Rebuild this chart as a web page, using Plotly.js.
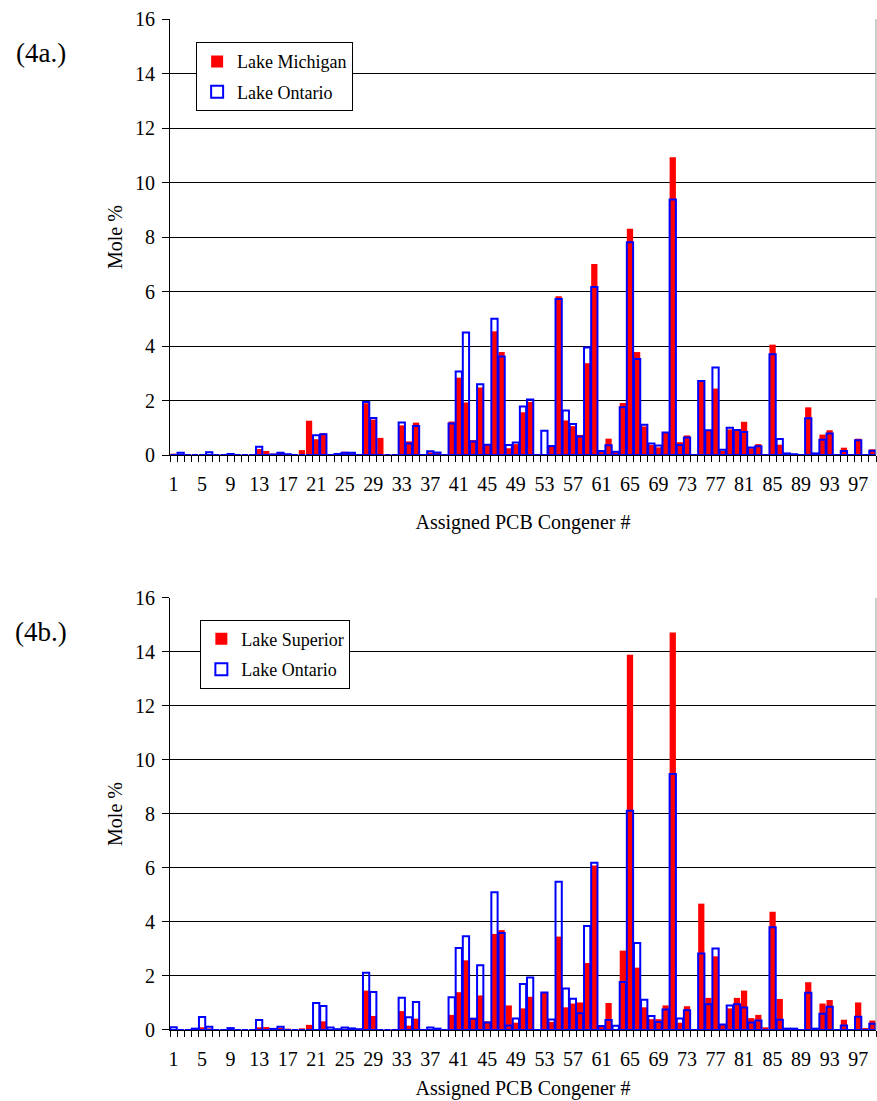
<!DOCTYPE html>
<html>
<head>
<meta charset="utf-8">
<script src="https://cdn.plot.ly/plotly-3.0.1.min.js"></script>
<style>
body{margin:0;padding:0;background:#fff;}
#chart{width:877px;height:1101px;}
#chart text{font-family:"Liberation Serif","Times New Roman",serif !important;}
</style>
</head>
<body>
<div id="chart"></div>
<script>
// Assigned PCB congener numbers (categories)
const congeners = [1,2,3,4,5,6,7,8,9,10,11,12,13,14,15,16,17,18,19,20,21,22,23,24,25,26,27,28,29,30,31,32,33,34,35,36,37,38,39,40,41,42,43,44,45,46,47,48,49,50,51,52,53,54,55,56,57,58,59,60,61,62,63,64,65,66,67,68,69,70,71,72,73,74,75,76,77,78,79,80,81,82,83,84,85,86,87,88,89,90,91,92,93,94,95,96,97,98,99];

// Panel 4a: mole %
const michigan = [0.05,0.02,0,0.03,0.03,0,0,0,0,0,0,0,0.22,0.15,0.05,0.08,0,0,0.18,1.26,0.58,0.8,0,0.05,0.12,0.06,0,1.9,1.3,0.63,0,0,1.09,0.5,1.19,0,0.1,0.08,0,1.23,2.84,1.93,0.55,2.48,0.4,4.54,3.78,0.25,0.4,1.57,1.95,0,0,0.33,5.83,1.27,1.06,0.74,3.37,7.01,0.15,0.6,0.12,1.91,8.3,3.78,1.05,0.37,0.28,0.83,10.93,0.47,0.72,0,2.75,0.9,2.44,0.15,0.94,0.95,1.22,0.25,0.4,0.02,4.05,0.38,0,0,0,1.75,0,0.75,0.91,0,0.27,0,0.6,0.03,0.21];
const ontarioA = [0,0.08,0,0,0,0.1,0,0,0.04,0,0,0,0.3,0,0.02,0.08,0.03,0,0,0,0.73,0.76,0,0.04,0.08,0.08,0,1.95,1.36,0,0,0,1.19,0.42,1.07,0,0.14,0.09,0,1.16,3.07,4.5,0.5,2.6,0.38,5.0,3.62,0.37,0.46,1.78,2.04,0,0.89,0.33,5.73,1.63,1.14,0.68,3.95,6.17,0.15,0.36,0.12,1.75,7.81,3.52,1.11,0.42,0.35,0.83,9.38,0.37,0.64,0,2.72,0.91,3.21,0.19,1.0,0.92,0.85,0.28,0.32,0,3.7,0.59,0.06,0.03,0,1.35,0.06,0.56,0.79,0,0.15,0,0.54,0,0.16];

// Panel 4b: mole %
const superior = [0.03,0,0,0,0.1,0.06,0,0,0,0,0,0,0.1,0.11,0,0.08,0.05,0,0.06,0.19,0.02,0.32,0,0,0.05,0,0,1.46,0.52,0,0,0.04,0.7,0.16,0.42,0.04,0,0,0,0.56,1.4,2.58,0.45,1.28,0.32,3.56,3.7,0.91,0.27,0.8,1.23,0,1.39,0.3,3.46,0.84,0.98,1.02,2.48,6.09,0.12,1.0,0,2.94,13.9,2.31,0.84,0.4,0.4,0.91,14.72,0.27,0.88,0,4.68,1.19,2.73,0.2,0.8,1.19,1.46,0.44,0.56,0.1,4.38,1.15,0,0,0,1.77,0,0.98,1.11,0,0.38,0,1.02,0.07,0.35];
const ontarioB = [0.1,0,0,0.05,0.48,0.12,0,0,0.07,0,0,0,0.37,0,0.04,0.12,0,0,0,0,1.0,0.89,0.09,0.03,0.09,0.06,0.03,2.12,1.41,0,0,0,1.19,0.47,1.04,0,0.09,0.05,0,1.21,3.04,3.47,0.42,2.4,0.28,5.1,3.59,0.17,0.43,1.7,1.94,0,1.39,0.39,5.49,1.54,1.16,0.62,3.85,6.19,0.15,0.37,0.16,1.78,8.12,3.22,1.12,0.52,0.3,0.76,9.48,0.43,0.73,0,2.83,0.95,3.02,0.2,0.91,0.95,0.83,0.28,0.35,0,3.81,0.38,0.05,0.05,0,1.38,0.05,0.6,0.86,0,0.17,0,0.49,0,0.23];

const tickLabels = ["1","5","9","13","17","21","25","29","33","37","41","45","49","53","57","61","65","69","73","77","81","85","89","93","97"];
const yTickLabels = ["0","2","4","6","8","10","12","14","16"];

const FONT = 'Liberation Serif';
const RED = '#FF0000';
const BLUE = '#0000FF';

// tick marks between categories
const boundaries = [];
for (let i = 0; i <= congeners.length; i++) boundaries.push(congeners[0] - 0.5 + i);

function filledBar(y, name, xa, ya, leg, grp) {
  return {type: 'bar', x: congeners, y: y, name: name, xaxis: xa, yaxis: ya, legend: leg, legendgroup: grp,
    width: 0.88, marker: {color: RED, line: {width: 0}}, hoverinfo: 'x+y+name'};
}
function outlineBar(y, name, xa, ya, leg, grp) {
  return {type: 'bar', x: congeners, y: y, name: name, xaxis: xa, yaxis: ya, legend: leg, legendgroup: grp,
    width: 0.88, marker: {color: 'rgba(255,255,255,0)', line: {color: BLUE, width: 2}}, hoverinfo: 'x+y+name'};
}

const data = [
  filledBar(michigan, 'Lake Michigan', 'x', 'y', 'legend', 'a1'),
  outlineBar(ontarioA, 'Lake Ontario', 'x', 'y', 'legend', 'a2'),
  filledBar(superior, 'Lake Superior', 'x2', 'y2', 'legend2', 'b1'),
  outlineBar(ontarioB, 'Lake Ontario', 'x2', 'y2', 'legend2', 'b2')
];

function xAxis(anchor, standoff) {
  return {
    anchor: anchor, domain: [0, 1], range: [0.5, 99.5], automargin: false,
    tickmode: 'array', tickvals: tickLabels.map(Number), ticktext: tickLabels, ticks: '',
    ticklabelstandoff: 11,
    tickfont: {family: FONT, size: 20, color: '#000'},
    showline: true, linecolor: '#000', linewidth: 1, showgrid: false, zeroline: false,
    minor: {tickmode: 'array', tickvals: boundaries, ticks: 'outside', ticklen: 6, tickwidth: 1, tickcolor: '#000', showgrid: false},
    title: {text: 'Assigned PCB Congener #', font: {family: FONT, size: 20, color: '#000'}, standoff: standoff}
  };
}
function yAxis(anchor, domain) {
  return {
    anchor: anchor, domain: domain, range: [0, 16], automargin: false,
    tickmode: 'array', tickvals: yTickLabels.map(Number), ticktext: yTickLabels,
    ticks: 'outside', ticklen: 7, tickwidth: 1, tickcolor: '#000', ticklabelstandoff: 3,
    tickfont: {family: FONT, size: 20, color: '#000'},
    showline: true, linecolor: '#000', linewidth: 1,
    showgrid: true, gridcolor: '#000', gridwidth: 1, zeroline: false,
    title: {text: 'Mole %', font: {family: FONT, size: 20, color: '#000'}, standoff: 6}
  };
}

const legendBase = {
  xanchor: 'left', yanchor: 'top', bgcolor: '#fff', bordercolor: '#000', borderwidth: 1,
  font: {family: FONT, size: 18, color: '#000'}, traceorder: 'grouped', tracegroupgap: 4, itemwidth: 30
};

const layout = {
  width: 877, height: 1101,
  margin: {l: 170, r: 1, t: 19, b: 71},
  paper_bgcolor: '#fff', plot_bgcolor: '#fff',
  font: {family: FONT, color: '#000'},
  barmode: 'overlay',
  showlegend: true,
  xaxis: xAxis('y', 20),
  yaxis: yAxis('x', [0.5687, 1]),
  xaxis2: xAxis('y2', 11),
  yaxis2: yAxis('x2', [0, 0.4273]),
  legend: Object.assign({}, legendBase, {x: 0.037, y: 0.977}),
  legend2: Object.assign({}, legendBase, {x: 0.043, y: 0.406}),
  shapes: [
    {type: 'line', xref: 'x domain', yref: 'y domain', x0: 1, x1: 1, y0: 0, y1: 1, line: {color: '#9a9a9a', width: 1}},
    {type: 'line', xref: 'x2 domain', yref: 'y2 domain', x0: 1, x1: 1, y0: 0, y1: 1, line: {color: '#9a9a9a', width: 1}}
  ],
  annotations: [
    {text: '(4a.)', xref: 'paper', yref: 'paper', x: -0.183, y: 0.9664, xanchor: 'center', yanchor: 'middle', showarrow: false, font: {family: FONT, size: 27, color: '#000'}},
    {text: '(4b.)', xref: 'paper', yref: 'paper', x: -0.183, y: 0.3937, xanchor: 'center', yanchor: 'middle', showarrow: false, font: {family: FONT, size: 27, color: '#000'}}
  ]
};

Plotly.newPlot('chart', data, layout, {displayModeBar: false, staticPlot: true});
</script>
</body>
</html>
